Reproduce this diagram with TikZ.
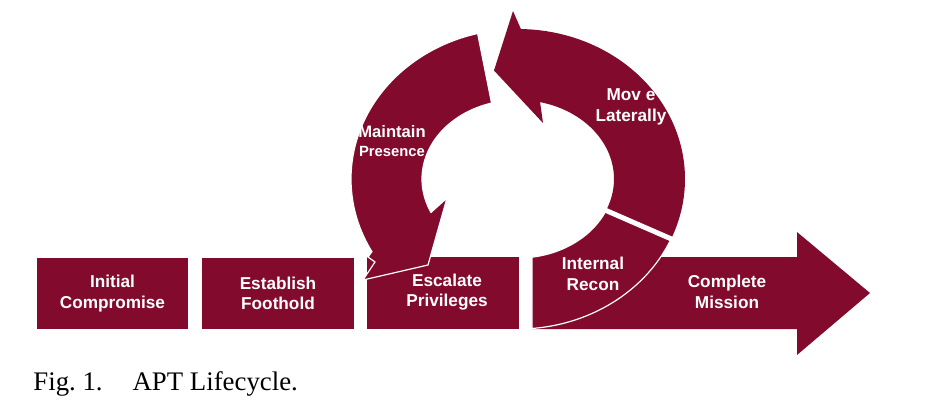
\documentclass[tikz,border=0pt]{standalone}
\usepackage{fontspec}
\setmainfont{Liberation Serif}
\setsansfont{Liberation Sans}
\definecolor{apt}{RGB}{130,10,45}
\begin{document}
\begin{tikzpicture}[x=0.5pt,y=-0.5pt,
  blk/.style={fill=apt},
  seg/.style={fill=apt, draw=white, line width=0.6pt, line join=miter},
  lbl/.style={text=white, font=\sffamily\bfseries\fontsize{8.6}{10.2}\selectfont, align=center, inner sep=0pt},
  stage/.style={fill=apt, text=white, font=\sffamily\bfseries\fontsize{8.6}{10.2}\selectfont, align=center, inner sep=0pt, minimum height=35.5pt},
]
\useasboundingbox (0,0) rectangle (943,414);

% straight stages
\node[stage, minimum width=75.5pt] (b1) at (112.5,293.5) {Initial\\Compromise};
\node[stage, minimum width=76pt] (b2) at (278,293.5) {Establish\\Foothold};
\node[stage, minimum width=76pt, minimum height=36pt] (b3) at (443,293) {};

% complete mission arrow
\fill[blk] (532,257) -- (797,257) -- (797,232) -- (870,293) -- (797,355) -- (797,329) -- (532,329) -- cycle;

% internal recon segment
\path[seg] plot[domain=85.2:23.5, samples=50, variable=\t] ({518+167*cos(\t)},{179+150*sin(\t)})
  -- plot[domain=23.5:81.6, samples=50, variable=\t] ({518+96*cos(\t)},{179+79*sin(\t)}) -- cycle;

% move laterally segment
\path[fill=apt] plot[domain=23.5:-89, samples=90, variable=\t] ({518+167*cos(\t)},{179+150*sin(\t)})
  -- (513,11) -- (494,70.5) -- (543,123)
  -- plot[domain=-76.7:23.5, samples=60, variable=\t] ({518+96*cos(\t)},{179+79*sin(\t)}) -- cycle;

% gap between internal recon and move laterally
\coordinate (g1) at (600.8,208.2);
\coordinate (g2) at (676.3,241.1);
\draw[white, line width=2.5pt] (g1) -- (g2);

% maintain presence segment
\path[seg] plot[domain=-104:-209, samples=90, variable=\t] ({518+167*cos(\t)},{179+150*sin(\t)})
  -- (368,257) -- (375,262) -- (363,280) -- (428,265) -- (447,198)
  -- plot[domain=-205:-106, samples=60, variable=\t] ({518+96*cos(\t)},{179+79*sin(\t)}) -- cycle;

% labels
\node[lbl] (l3) at (447,292) {Escalate\\Privileges};
\node[lbl] (l4) at (593,274) {Internal\\Recon};
\node[lbl] (l5) at (727,292) {Complete\\Mission};
\node[lbl] (l6) at (631,107) {Mov e\\Laterally};
\node[lbl, font=\sffamily\bfseries\fontsize{8.3}{9.6}\selectfont] (l7) at (392,141) {Maintain\\\fontsize{7.4}{9}\selectfont Presence};

% caption
\node[anchor=base west, inner sep=0pt, font=\fontsize{13.4}{16}\selectfont] (cap) at (33,390) {Fig.~1.\hspace{15pt}APT Lifecycle.};
\end{tikzpicture}
\end{document}
